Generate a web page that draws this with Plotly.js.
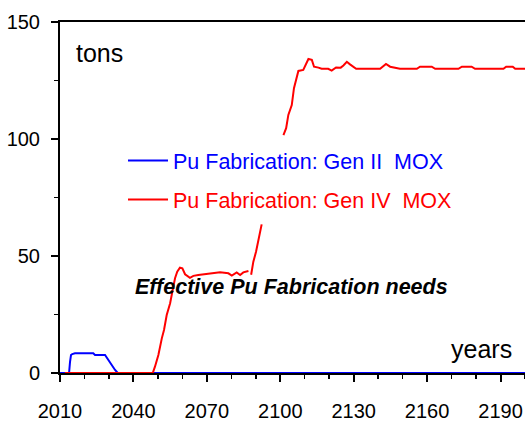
<!DOCTYPE html>
<html>
<head>
<meta charset="utf-8">
<script src="https://cdn.plot.ly/plotly-3.0.1.min.js"></script>
<style>
  html, body { margin: 0; padding: 0; background: #fff; }
  #chart { width: 525px; height: 421px; }
</style>
</head>
<body>
<div id="chart"></div>
<script>
// Gen II MOX fabrication (tons per year)
const blueYears = [2010, 2013.7, 2014.1, 2014.5, 2015, 2016.1, 2023.6, 2024.3, 2028.4, 2029.7, 2031.1, 2032.5, 2033.6, 2200];
const blueTons  = [0, 0, 4.8, 7.7, 8.1, 8.4, 8.4, 7.7, 7.7, 5.6, 3.4, 1.3, 0, 0];

// Gen IV MOX fabrication; null = where the curve is not drawn
const redYears = [2012, 2047.9, 2048.8, 2050.2, 2051.6, 2052.5, 2053.6, 2055, 2055.9, 2057, 2057.9, 2059, 2060,
  2061.1, 2063.1, 2064.5, 2066.5, 2069.3, 2072, 2075.4, 2078.8, 2080.2, 2082.2, 2083.6, 2084.9, 2087, 2087.5,
  2088.1, 2089, 2090.1, 2091, 2092, 2092.4, 2097,
  2101.3, 2102.4, 2103.3, 2104.7, 2105.6, 2106.7, 2107.4, 2109.4, 2110.5, 2111.5, 2112.9, 2113.8, 2115.6,
  2116.9, 2119.6, 2121, 2122.8, 2124.7, 2125.8, 2127.2, 2128.5, 2131, 2140.8, 2143.2, 2144.9, 2146.9, 2148.9,
  2155.8, 2157.1, 2161.9, 2163.3, 2172.8, 2174.2, 2178.2, 2179.6, 2191.2, 2192.3, 2195, 2196, 2200];
const redTons = [0, 0, 2.7, 7.7, 14.8, 18.4, 24.8, 29.8, 34.7, 40.5, 43.3, 45, 44.7,
  42.2, 40.7, 41.5, 41.9, 42.2, 42.6, 43, 42.6, 41.6, 43, 41.9, 43, 43.6, null,
  42, 47.6, 51.8, 56.1, 61.1, 63.5, null,
  101.7, 104.6, 110.3, 114.5, 121.7, 125.9, 129.1, 129.5, 132.3, 134.2, 133.8, 130.9, 130.5,
  130, 130, 129.2, 130.6, 130.5, 131.4, 133, 131.9, 130, 130, 132.1, 130.9, 130.5, 130,
  130, 130.9, 130.9, 130, 130, 130.9, 130.9, 130, 130, 130.9, 130.9, 130, 130];

const seriesNames = ["Pu Fabrication: Gen II \u00a0MOX", "Pu Fabrication: Gen IV \u00a0MOX"];
const xTicks = [2010, 2040, 2070, 2100, 2130, 2160, 2190];
const yTicks = [0, 50, 100, 150];

const FONT = "Arial, 'Liberation Sans', sans-serif";

// plot area in pixels: left 60, right 525, top 22, bottom 373
const px = (x) => (x - 60) / 465;
const py = (y) => (373 - y) / 351;

const traces = [
  {
    x: blueYears, y: blueTons, type: "scatter", mode: "lines",
    name: seriesNames[0], legendgroup: "g2",
    line: { color: "#0000ff", width: 2 }
  },
  {
    x: redYears, y: redTons, type: "scatter", mode: "lines",
    name: seriesNames[1], legendgroup: "g4", connectgaps: false,
    line: { color: "#ff0000", width: 2 }
  }
];

const axisCommon = {
  showgrid: false, zeroline: false,
  showline: true, linecolor: "#000", linewidth: 2,
  ticks: "outside", ticklen: 7, tickwidth: 2, tickcolor: "#000",
  tickfont: { family: FONT, size: 20, color: "#000" }
};

const layout = {
  width: 525, height: 421,
  margin: { l: 60, r: 0, t: 22, b: 48 },
  paper_bgcolor: "#fff", plot_bgcolor: "#fff",
  showlegend: true,
  legend: {
    x: px(123), y: py(140), xanchor: "left", yanchor: "top",
    bgcolor: "rgba(0,0,0,0)", borderwidth: 0,
    traceorder: "grouped", tracegroupgap: 8, itemwidth: 40,
    font: { family: FONT, size: 21.5, color: "#000" }
  },
  xaxis: Object.assign({}, axisCommon, {
    range: [2010, 2200], tickvals: xTicks, mirror: true,
    ticklabelstandoff: 12,
    minor: { dtick: 10, tick0: 2010, ticks: "outside", ticklen: 4, tickwidth: 1.5, tickcolor: "#000" }
  }),
  yaxis: Object.assign({}, axisCommon, {
    range: [0, 150], tickvals: yTicks,
    ticklabelstandoff: 7,
    minor: { dtick: 25, tick0: 0, ticks: "outside", ticklen: 4, tickwidth: 1.5, tickcolor: "#000" }
  }),
  annotations: [
    { text: "tons", xref: "paper", yref: "paper", x: px(74), y: py(53), xanchor: "left", yanchor: "middle",
      showarrow: false, font: { family: FONT, size: 25, color: "#000" } },
    { text: "years", xref: "paper", yref: "paper", x: px(449), y: py(349), xanchor: "left", yanchor: "middle",
      showarrow: false, font: { family: FONT, size: 25, color: "#000" } },
    { text: "Effective Pu Fabrication needs", xref: "paper", yref: "paper", x: px(291.5), y: py(286.5),
      xanchor: "center", yanchor: "middle", showarrow: false,
      font: { family: FONT, size: 21.5, color: "#000", weight: "bold", style: "italic" } }
  ]
};

// legend text colour follows its trace
Plotly.newPlot("chart", traces, layout, { staticPlot: true }).then((gd) => {
  gd.querySelectorAll(".legend .traces").forEach((g, i) => {
    const t = g.querySelector("text.legendtext");
    if (t) t.style.fill = traces[i].line.color;
  });
});
</script>
</body>
</html>
